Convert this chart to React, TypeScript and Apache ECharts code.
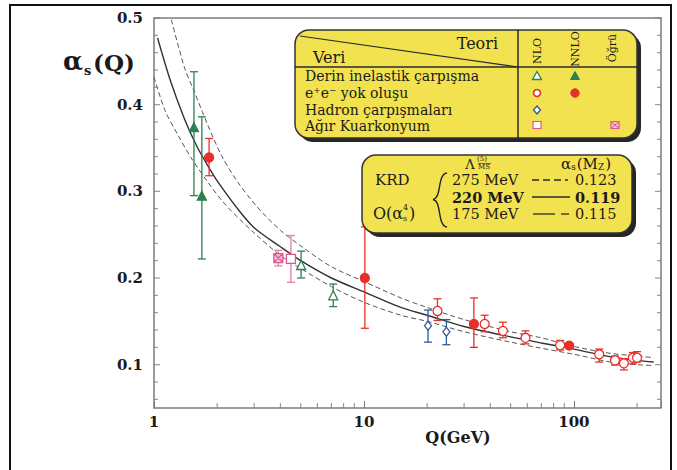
import React, { useEffect, useRef } from "react";
import * as echarts from "echarts";

// ---------- data ----------
const xMinorTicks = [2, 3, 4, 5, 6, 7, 8, 9, 20, 30, 40, 50, 60, 70, 80, 90, 200];
const yMinorTicks = [0.06, 0.08, 0.12, 0.14, 0.16, 0.18, 0.22, 0.24, 0.26, 0.28, 0.32, 0.34, 0.36, 0.38, 0.42, 0.44, 0.46, 0.48];
const yMajorTicks = [0.1, 0.2, 0.3, 0.4, 0.5];

// data rows: [Q (GeV), alpha_s, lower error, upper error]
const disNLO = [
  [5.02, 0.215, 0.2, 0.231],
  [7.14, 0.18, 0.167, 0.193],
];
const disNNLO = [
  [1.55, 0.374, 0.295, 0.438],
  [1.69, 0.295, 0.222, 0.386],
];
const eeNLO = [
  [22.4, 0.162, 0.151, 0.176],
  [37.6, 0.147, 0.138, 0.157],
  [45.9, 0.139, 0.131, 0.149],
  [58.8, 0.131, 0.124, 0.139],
  [86, 0.1225, 0.117, 0.128],
  [132, 0.112, 0.103, 0.118],
  [157, 0.105, 0.0995, 0.11],
  [173, 0.1015, 0.094, 0.107],
  [191, 0.108, 0.101, 0.114],
  [200, 0.108, 0.103, 0.115],
];
const eeNNLO = [
  [1.83, 0.339, 0.318, 0.361],
  [10.1, 0.2, 0.142, 0.259],
  [33.4, 0.147, 0.12, 0.177],
  [95, 0.122, 0.12, 0.124],
];
const hadronNLO = [
  [20.2, 0.145, 0.126, 0.163],
  [24.7, 0.138, 0.123, 0.152],
];
const quarkoniumNLO = [[4.49, 0.222, 0.195, 0.249]];
const quarkoniumLattice = [[3.91, 0.223, 0.214, 0.232]];

// theory curves
const centralQ = [1.04, 1.2, 1.4, 1.6, 1.8, 2.0, 2.5, 3.0, 4.0, 5.0, 7.0, 10, 15, 20, 30, 50, 70, 100, 150, 200, 240];
const centralA = [0.477, 0.427, 0.383, 0.352, 0.33, 0.312, 0.28, 0.258, 0.236, 0.22, 0.2, 0.184, 0.166, 0.157, 0.144, 0.132, 0.125, 0.118, 0.109, 0.105, 0.103];
const upperQ = [1.21, 1.4, 1.55, 1.8, 2.1, 2.5, 3.1, 4.0, 5.0, 7.0, 10, 15, 20, 30, 50, 70, 100, 150, 200, 240];
const upperA = [0.498, 0.442, 0.416, 0.377, 0.341, 0.311, 0.282, 0.255, 0.237, 0.213, 0.196, 0.177, 0.166, 0.152, 0.138, 0.131, 0.121, 0.113, 0.11, 0.108];
const lowerQ = [1.0, 1.13, 1.3, 1.5, 1.8, 2.2, 3.0, 4.0, 5.0, 7.0, 10, 15, 20, 30, 50, 70, 100, 150, 200, 240];
const lowerA = [0.432, 0.393, 0.365, 0.339, 0.311, 0.284, 0.252, 0.226, 0.211, 0.19, 0.172, 0.157, 0.15, 0.138, 0.126, 0.119, 0.112, 0.103, 0.1, 0.099];

// legend texts
const legendTitleTheory = "Teori";
const legendTitleData = "Veri";
const theoryCols = ["NLO", "NNLO", "Öğrü"];
const dataRows = ["Derin inelastik çarpışma", "e⁺e⁻ yok oluşu", "Hadron çarpışmaları", "Ağır Kuarkonyum"];
const krdLambdas = ["275 MeV", "220 MeV", "175 MeV"];
const krdAlphas = ["0.123", "0.119", "0.115"];

// ---------- styles ----------
const GREEN = "#2d8050";
const RED = "#e8302a";
const BLUE = "#2c5a9a";
const PINK = "#e0558e";
const PINK_BAR = "#e87aa5";
const YELLOW = "#f3e250";
const FONT = "DejaVu Serif";
const TICK = "#777";

function errSeries(data: number[][], color: string) {
  return {
    type: "custom",
    data,
    z: 3,
    silent: true,
    encode: { x: 0, y: [2, 3] },
    renderItem: (_p: any, api: any) => {
      const x = api.value(0);
      const lo = api.coord([x, api.value(2)]);
      const hi = api.coord([x, api.value(3)]);
      const w = 4;
      const st = { stroke: color, lineWidth: 1.3 };
      return {
        type: "group",
        children: [
          { type: "line", shape: { x1: lo[0], y1: lo[1], x2: hi[0], y2: hi[1] }, style: st },
          { type: "line", shape: { x1: lo[0] - w, y1: lo[1], x2: lo[0] + w, y2: lo[1] }, style: st },
          { type: "line", shape: { x1: hi[0] - w, y1: hi[1], x2: hi[0] + w, y2: hi[1] }, style: st },
        ],
      };
    },
  };
}

function pts(data: number[][], symbol: any, size: any, fill: string, stroke: string) {
  return {
    type: "scatter",
    data: data.map((d) => [d[0], d[1]]),
    symbol,
    symbolSize: size,
    z: 4,
    silent: true,
    itemStyle: { color: fill, borderColor: stroke, borderWidth: 1.3, opacity: 1 },
  };
}

function curve(qs: number[], as: number[], dashed: boolean) {
  return {
    type: "line",
    data: qs.map((q, i) => [q, as[i]]),
    showSymbol: false,
    smooth: 0.3,
    z: 2,
    silent: true,
    lineStyle: dashed ? { color: "#555", width: 1, type: [5, 3] } : { color: "#333", width: 1.4 },
  };
}

function tickSeries(data: number[][], size: number[], offset: number[]) {
  return {
    type: "scatter",
    data,
    symbol: "rect",
    symbolSize: size,
    symbolOffset: offset,
    itemStyle: { color: TICK },
    silent: true,
    clip: false,
    z: 5,
  };
}

function txt(x: number, y: number, text: string, size: number, opts: any = {}) {
  return {
    type: "text",
    x,
    y,
    rotation: opts.rotation || 0,
    z: 20,
    style: {
      text,
      fontSize: size,
      fontFamily: FONT,
      fontWeight: opts.bold ? "bold" : "normal",
      fill: opts.color || "#1a1a1a",
      align: opts.align || "left",
      textAlign: opts.align || "left",
      verticalAlign: "middle",
      textVerticalAlign: "middle",
      lineHeight: size,
    },
  };
}

function line(x1: number, y1: number, x2: number, y2: number, opts: any = {}) {
  return {
    type: "line",
    z: 20,
    shape: { x1, y1, x2, y2 },
    style: { stroke: opts.color || "#2a2a2a", lineWidth: opts.width || 1.5, lineDash: opts.dash || null },
  };
}

function box(x: number, y: number, w: number, h: number) {
  return [
    { type: "rect", z: 18, shape: { x: x + 4, y: y + 4, width: w, height: h, r: 14 }, style: { fill: "#262626" } },
    { type: "rect", z: 19, shape: { x, y, width: w, height: h, r: 14 }, style: { fill: YELLOW, stroke: "#333", lineWidth: 1.5 } },
  ];
}

function buildGraphic() {
  const g: any[] = [];
  // outer frame
  g.push({ type: "rect", z: 30, shape: { x: 10, y: 5, width: 661, height: 480 }, style: { fill: "none", stroke: "#111", lineWidth: 2 } });

  // y title alpha_s(Q)
  g.push(txt(63, 61, "α", 26, { bold: true }));
  g.push(txt(84, 70, "s", 13, { bold: true }));
  g.push(txt(93, 62, "(Q)", 23, { bold: true }));
  // x title
  g.push(txt(458, 437, "Q(GeV)", 16, { bold: true, align: "center" }));

  // ---- legend box 1 ----
  g.push(...box(295, 30, 342, 108));
  g.push(line(518, 30, 518, 138));
  g.push(line(295, 67, 637, 67));
  g.push(line(300, 36, 518, 67, { width: 1.2 }));
  g.push(txt(498, 43, legendTitleTheory, 16, { align: "right" }));
  g.push(txt(313, 57, legendTitleData, 16));
  const colX = [537, 575, 612];
  const colY = [51, 49, 48];
  theoryCols.forEach((t, i) => g.push(txt(colX[i], colY[i], t, 11, { align: "center", rotation: Math.PI / 2 })));
  const rowY = [76, 93, 109.5, 126];
  dataRows.forEach((t, i) => g.push(txt(305, rowY[i], t, 14)));
  // legend symbols
  g.push({ type: "polygon", z: 21, shape: { points: [[537, 71.5], [541.5, 79.5], [532.5, 79.5]] }, style: { fill: "#fff", stroke: GREEN, lineWidth: 1.3 } });
  g.push({ type: "polygon", z: 21, shape: { points: [[575, 71.5], [579.5, 79.5], [570.5, 79.5]] }, style: { fill: GREEN, stroke: GREEN, lineWidth: 1 } });
  g.push({ type: "circle", z: 21, shape: { cx: 537, cy: 93, r: 3.5 }, style: { fill: "#fff", stroke: RED, lineWidth: 1.6 } });
  g.push({ type: "circle", z: 21, shape: { cx: 575, cy: 93, r: 4.2 }, style: { fill: RED, stroke: RED, lineWidth: 1 } });
  g.push({ type: "polygon", z: 21, shape: { points: [[537, 106], [540.5, 110], [537, 114], [533.5, 110]] }, style: { fill: "#fff", stroke: BLUE, lineWidth: 1.3 } });
  g.push({ type: "rect", z: 21, shape: { x: 533, y: 121.5, width: 8, height: 7 }, style: { fill: "#fff", stroke: PINK, lineWidth: 1.2 } });
  g.push({ type: "rect", z: 21, shape: { x: 611, y: 121.5, width: 8, height: 7 }, style: { fill: "#f7c3d6", stroke: PINK, lineWidth: 1.2 } });
  g.push({ type: "line", z: 22, shape: { x1: 611, y1: 121.5, x2: 619, y2: 128.5 }, style: { stroke: PINK, lineWidth: 1 } });
  g.push({ type: "line", z: 22, shape: { x1: 619, y1: 121.5, x2: 611, y2: 128.5 }, style: { stroke: PINK, lineWidth: 1 } });

  // ---- legend box 2 ----
  g.push(...box(362, 155, 270, 78));
  g.push(txt(470, 164, "Λ", 13, { align: "center" }));
  g.push(txt(477, 158.5, "(5)", 7));
  g.push(txt(478, 167.3, "MS", 7));
  g.push(line(478, 163.6, 491, 163.6, { width: 0.7 }));
  g.push({
    type: "text",
    x: 561,
    y: 164,
    z: 20,
    style: {
      text: "{a|α}{b|s}{a|(M}{b|Z}{a|)}",
      fontFamily: FONT,
      fill: "#1a1a1a",
      align: "left",
      verticalAlign: "middle",
      rich: {
        a: { fontSize: 15, fontFamily: FONT, lineHeight: 15, verticalAlign: "bottom", fill: "#1a1a1a" },
        b: { fontSize: 9, fontFamily: FONT, lineHeight: 9, verticalAlign: "bottom", fill: "#1a1a1a", padding: [0, 1, 0, 0] },
      },
    },
  });
  g.push(txt(375, 180, "KRD", 15));
  g.push(txt(373, 213, "O(α", 16));
  g.push(txt(403, 207, "4", 8));
  g.push(txt(403, 218, "s", 8));
  g.push(txt(409, 213, ")", 16));
  // brace
  g.push({ type: "bezierCurve", z: 20, shape: { x1: 447, y1: 173, cpx1: 437, cpy1: 174, cpx2: 442, cpy2: 198, x2: 433, y2: 199.5 }, style: { stroke: "#222", lineWidth: 1.4, fill: "none" } });
  g.push({ type: "bezierCurve", z: 20, shape: { x1: 433, y1: 199.5, cpx1: 442, cpy1: 201, cpx2: 437, cpy2: 226, x2: 447, y2: 227 }, style: { stroke: "#222", lineWidth: 1.4, fill: "none" } });
  const krdY = [180, 197, 214];
  krdLambdas.forEach((t, i) => g.push(txt(452, krdY[i], t, 14.5, { bold: i === 1 })));
  krdAlphas.forEach((t, i) => g.push(txt(575, krdY[i], t, 14.5, { bold: i === 1 })));
  g.push(line(532, 180, 568, 180, { width: 1.3, dash: [7, 4] }));
  g.push(line(532, 197, 570, 197, { width: 1.5 }));
  g.push(line(533, 214, 555, 214, { width: 1.3 }));
  g.push(line(561, 214, 569, 214, { width: 1.3 }));
  return g;
}

export default function App() {
  const ref = useRef<HTMLDivElement>(null);
  useEffect(() => {
    if (!ref.current) return;
    const chart = echarts.init(ref.current, undefined, { renderer: "svg" });
    const labelStyle = { fontFamily: FONT, fontWeight: "bold", fontSize: 15, color: "#1a1a1a" };
    const yAxisBase = {
      type: "value",
      min: 0.05,
      max: 0.5,
      interval: 0.05,
      splitLine: { show: false },
      axisLine: { show: false },
      axisTick: { show: false },
    };
    chart.setOption({
      animation: false,
      backgroundColor: "#ffffff",
      grid: { left: 154, right: 16, top: 18, bottom: 62, show: true, borderColor: "#7c7c7c", borderWidth: 1.5, backgroundColor: "transparent" },
      xAxis: {
        type: "log",
        logBase: 10,
        min: 1,
        max: 260,
        splitLine: { show: false },
        axisLine: { show: false },
        axisTick: { inside: true, length: 7, lineStyle: { color: TICK, width: 1 } },
        axisLabel: {
          ...labelStyle,
          margin: 6,
          formatter: (v: number) => {
            const l = Math.log10(v);
            return Math.abs(l - Math.round(l)) < 1e-6 ? String(Math.round(v)) : "";
          },
        },
      },
      yAxis: [
        {
          ...yAxisBase,
          position: "left",
          axisLabel: {
            ...labelStyle,
            margin: 11,
            formatter: (v: number) => (Math.abs(v * 10 - Math.round(v * 10)) < 1e-6 ? v.toFixed(1) : ""),
          },
        },
        { ...yAxisBase, position: "right", axisLabel: { show: false } },
      ],
      series: [
        curve(centralQ, centralA, false),
        curve(upperQ, upperA, true),
        curve(lowerQ, lowerA, true),
        tickSeries(xMinorTicks.map((q) => [q, 0.05]), [1.1, 5], [0, -2.5]),
        tickSeries(yMinorTicks.map((v) => [1, v]), [4, 1.1], [2, 0]),
        tickSeries(yMinorTicks.map((v) => [260, v]), [4, 1.1], [-2, 0]),
        tickSeries(yMajorTicks.map((v) => [1, v]), [6, 1.1], [3, 0]),
        tickSeries(yMajorTicks.map((v) => [260, v]), [6, 1.1], [-3, 0]),
        errSeries(disNLO, GREEN),
        errSeries(disNNLO, GREEN),
        errSeries(eeNLO, RED),
        errSeries(eeNNLO, RED),
        errSeries(hadronNLO, BLUE),
        errSeries(quarkoniumNLO, PINK_BAR),
        errSeries(quarkoniumLattice, PINK_BAR),
        pts(disNLO, "triangle", 9, "#fff", GREEN),
        pts(disNNLO, "triangle", 9, GREEN, GREEN),
        pts(eeNLO, "circle", 9, "#fff", RED),
        pts(eeNNLO, "circle", 9, RED, RED),
        pts(hadronNLO, "diamond", [7, 9], "#fff", BLUE),
        pts(quarkoniumNLO, "rect", 9, "#fff", PINK),
        pts(quarkoniumLattice, "path://M0 0H10V10H0ZM0 0L10 10M10 0L0 10", 9, "#f7c3d6", PINK),
      ],
      graphic: buildGraphic(),
    });
    return () => chart.dispose();
  }, []);
  return <div ref={ref} style={{ position: "fixed", left: 0, top: 0, width: 677, height: 470, background: "#fff" }} />;
}
